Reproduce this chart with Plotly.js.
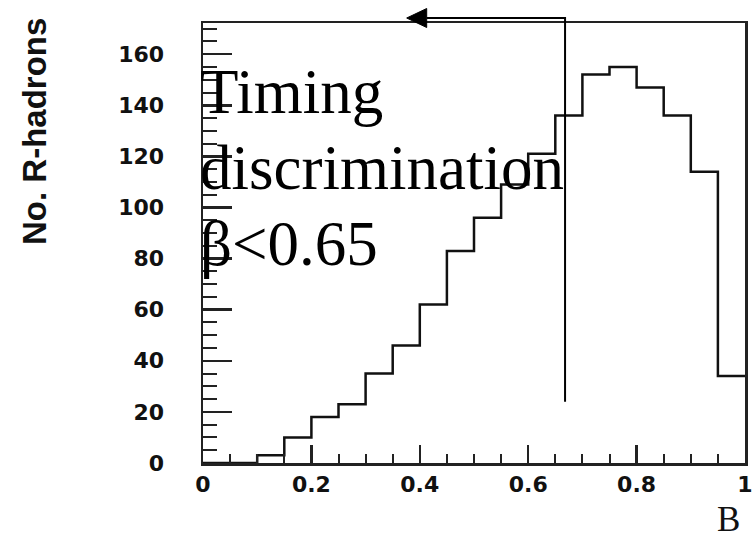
<!DOCTYPE html>
<html>
<head>
<meta charset="utf-8">
<script src="https://cdn.plot.ly/plotly-3.0.1.min.js"></script>
<style>html,body{margin:0;padding:0;background:#fff;}</style>
</head>
<body>
<div id="chart" style="width:753px;height:543px;"></div>
<script>
// Bin edges (beta) and counts per bin (width 0.05)
const binEdges = [0,0.05,0.10,0.15,0.20,0.25,0.30,0.35,0.40,0.45,0.50,0.55,0.60,0.65,0.70,0.75,0.80,0.85,0.90,0.95,1.00];
const binCounts = [0,0,3,10,18,23,35,46,62,83,96,109,121,136,152,155,147,136,114,34];
const xTickVals = [0,0.2,0.4,0.6,0.8,1];
const xTickText = ["0","0.2","0.4","0.6","0.8","1"];
const yTickVals = [0,20,40,60,80,100,120,140,160];
const yTickText = ["0","20","40","60","80","100","120","140","160"];
const yTitle = "No. R-hadrons";
const xTitle = "B";
const noteLines = ["Timing","discrimination","β<0.65"];
const cutBeta = 0.668;     // position of the cut line
const cutLineBottom = 24;  // lower end of the cut line (counts)

const yMax = 172.2;
const stepY = binCounts.concat([binCounts[binCounts.length-1]]);

const trace = {
  type: 'scatter', mode: 'lines',
  x: binEdges, y: stepY,
  line: {shape: 'hv', color: '#111', width: 2.5},
  hoverinfo: 'skip', showlegend: false
};

const W = 753, H = 543, mL = 203, mR = 8, mT = 23, mB = 80;
const pw = W - mL - mR, ph = H - mT - mB;
const pxX = px => (px - mL) / pw;
const pxY = py => (H - mB - py) / ph;

const arrowY = pxY(18);
const tipX = pxX(406.7), backX = pxX(426.7), half = 9.5 / ph;

const tickFont = {family: 'DejaVu Sans', size: 22, color: '#111', weight: 'bold'};
const noteFont = {family: 'Liberation Serif', size: 63, color: '#000'};

const layout = {
  width: W, height: H,
  margin: {l: mL, r: mR, t: mT, b: mB, pad: 0},
  paper_bgcolor: '#fff', plot_bgcolor: '#fff',
  showlegend: false,
  xaxis: {
    range: [0, 1], showgrid: false, zeroline: false,
    showline: true, mirror: true, linecolor: '#222', linewidth: 2.5,
    ticks: 'inside', ticklen: 18, tickwidth: 2.5, tickcolor: '#222',
    tickvals: xTickVals, ticktext: xTickText, tickfont: tickFont,
    ticklabelstandoff: 0,
    minor: {dtick: 0.05, tick0: 0, ticks: 'inside', ticklen: 9, tickwidth: 2, tickcolor: '#222', showgrid: false}
  },
  yaxis: {
    range: [0, yMax], showgrid: false, zeroline: false,
    showline: true, mirror: true, linecolor: '#222', linewidth: 2.5,
    ticks: 'inside', ticklen: 29, tickwidth: 2.5, tickcolor: '#222',
    tickvals: yTickVals, ticktext: yTickText, tickfont: tickFont,
    ticklabelstandoff: 32,
    minor: {dtick: 5, tick0: 0, ticks: 'inside', ticklen: 14, tickwidth: 2, tickcolor: '#222', showgrid: false}
  },
  shapes: [
    {type: 'path', xref: 'paper', yref: 'paper', layer: 'above',
     path: `M ${cutBeta} ${cutLineBottom / yMax} L ${cutBeta} ${arrowY} L ${backX} ${arrowY}`,
     line: {color: '#000', width: 2}},
    {type: 'path', xref: 'paper', yref: 'paper', layer: 'above',
     path: `M ${tipX} ${arrowY} L ${backX} ${arrowY + half} L ${backX} ${arrowY - half} Z`,
     fillcolor: '#000', line: {color: '#000', width: 1}}
  ],
  annotations: [
    {xref: 'paper', yref: 'paper', x: pxX(34), y: pxY(132), text: yTitle, textangle: -90,
     showarrow: false, font: {family: 'Liberation Sans', size: 33, weight: 'bold', color: '#111'},
     xanchor: 'center', yanchor: 'middle'},
    {xref: 'paper', yref: 'paper', x: pxX(728), y: pxY(519), text: xTitle,
     showarrow: false, font: {family: 'Liberation Serif', size: 35, color: '#111'},
     xanchor: 'center', yanchor: 'middle'},
    {xref: 'paper', yref: 'paper', x: pxX(198), y: pxY(92), text: noteLines[0],
     showarrow: false, font: noteFont, xanchor: 'left', yanchor: 'middle'},
    {xref: 'paper', yref: 'paper', x: pxX(198), y: pxY(168), text: noteLines[1],
     showarrow: false, font: noteFont, xanchor: 'left', yanchor: 'middle'},
    {xref: 'paper', yref: 'paper', x: pxX(198), y: pxY(244), text: noteLines[2],
     showarrow: false, font: noteFont, xanchor: 'left', yanchor: 'middle'}
  ]
};

Plotly.newPlot('chart', [trace], layout, {displayModeBar: false, staticPlot: true});
</script>
</body>
</html>
